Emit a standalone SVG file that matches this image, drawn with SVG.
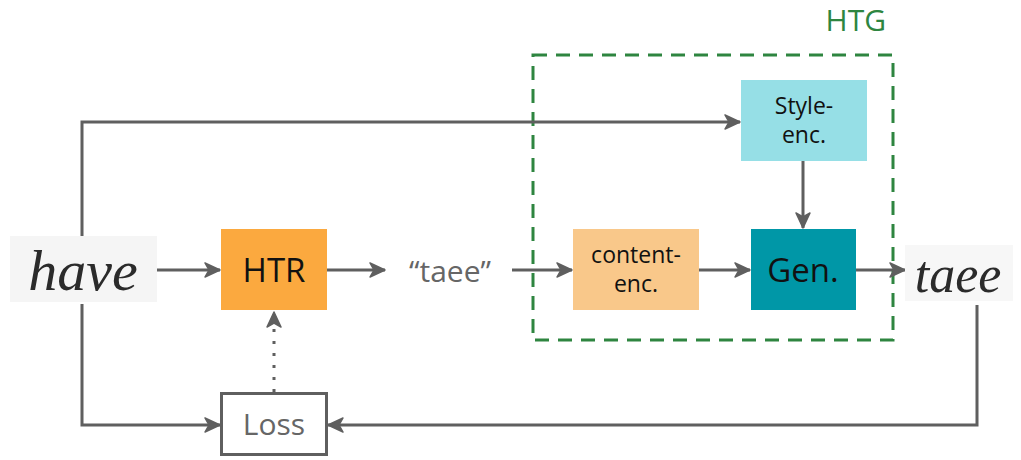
<svg xmlns="http://www.w3.org/2000/svg" width="1021" height="460" viewBox="0 0 1021 460">
  <style>
    .lbl { font-family: "Open Sans", Lato, "Liberation Sans", sans-serif; text-anchor: middle; }
    .wire { fill: none; stroke: #5f5f5f; stroke-width: 3; }
    .hand { font-family: "Liberation Serif", "DejaVu Serif", serif; font-style: italic; fill: #2b2b2b; }
  </style>
  <defs>
    <marker id="arr" viewBox="0 0 20 20" refX="17" refY="10" markerWidth="20" markerHeight="20" markerUnits="userSpaceOnUse" orient="auto">
      <path d="M2,3 L17,10 L2,17 L6,10 Z" fill="#5f5f5f" stroke="#5f5f5f" stroke-width="1.5" stroke-linejoin="round"/>
    </marker>
  </defs>
  <rect width="1021" height="460" fill="#ffffff"/>

  <!-- HTG group frame -->
  <g id="htg">
    <rect x="533" y="55" width="360" height="285" fill="none" stroke="#2e8540" stroke-width="3" stroke-dasharray="14 9"/>
    <text x="886" y="31" class="lbl" style="text-anchor:end" font-size="30" fill="#2e8540">HTG</text>
  </g>

  <!-- connectors -->
  <g id="connectors">
    <path class="wire" d="M157,270 L220,270" marker-end="url(#arr)"/>
    <path class="wire" d="M327,270 L385,270" marker-end="url(#arr)"/>
    <path class="wire" d="M512,270 L572,270" marker-end="url(#arr)"/>
    <path class="wire" d="M699,270 L750,270" marker-end="url(#arr)"/>
    <path class="wire" d="M856,270 L905,270" marker-end="url(#arr)"/>
    <path class="wire" d="M82,236 L82,122 L740,122" marker-end="url(#arr)"/>
    <path class="wire" d="M803,161 L803,228" marker-end="url(#arr)"/>
    <path class="wire" d="M82,304 L82,425 L220,425" marker-end="url(#arr)"/>
    <path class="wire" d="M977,305 L977,425 L328,425" marker-end="url(#arr)"/>
    <path class="wire" d="M274,392 L274,312" stroke-dasharray="3 9" marker-end="url(#arr)"/>
  </g>

  <!-- input handwriting sample -->
  <g id="input-image">
    <rect x="10" y="236" width="147" height="66" fill="#f5f5f5"/>
    <text x="83" y="290" class="hand" font-size="58" text-anchor="middle">have</text>
  </g>

  <g id="htr">
    <rect x="221" y="229" width="106" height="81" fill="#fba93f"/>
    <text x="274" y="282" class="lbl" font-size="33" fill="#111">HTR</text>
  </g>

  <g id="transcription">
    <text x="450" y="282" class="lbl" font-size="30" fill="#666">“taee”</text>
  </g>

  <g id="content-enc">
    <rect x="573" y="229" width="126" height="81" fill="#f9c88a"/>
    <text x="636" y="263" class="lbl" font-size="23" fill="#111">content-</text>
    <text x="636" y="292" class="lbl" font-size="23" fill="#111">enc.</text>
  </g>

  <g id="style-enc">
    <rect x="741" y="80" width="126" height="81" fill="#96dfe6"/>
    <text x="804" y="114" class="lbl" font-size="23" fill="#111">Style-</text>
    <text x="804" y="143" class="lbl" font-size="23" fill="#111">enc.</text>
  </g>

  <g id="gen">
    <rect x="751" y="229" width="105" height="81" fill="#0097a7"/>
    <text x="803" y="282" class="lbl" font-size="33" fill="#111">Gen.</text>
  </g>

  <!-- generated handwriting sample -->
  <g id="output-image">
    <rect x="905" y="245" width="108" height="56" fill="#f7f7f7"/>
    <text x="958" y="292" class="hand" font-size="52" text-anchor="middle">taee</text>
  </g>

  <g id="loss">
    <rect x="221.5" y="393.5" width="105" height="61" fill="#ffffff" stroke="#5f5f5f" stroke-width="3"/>
    <text x="274" y="435" class="lbl" font-size="30" fill="#666">Loss</text>
  </g>
</svg>
